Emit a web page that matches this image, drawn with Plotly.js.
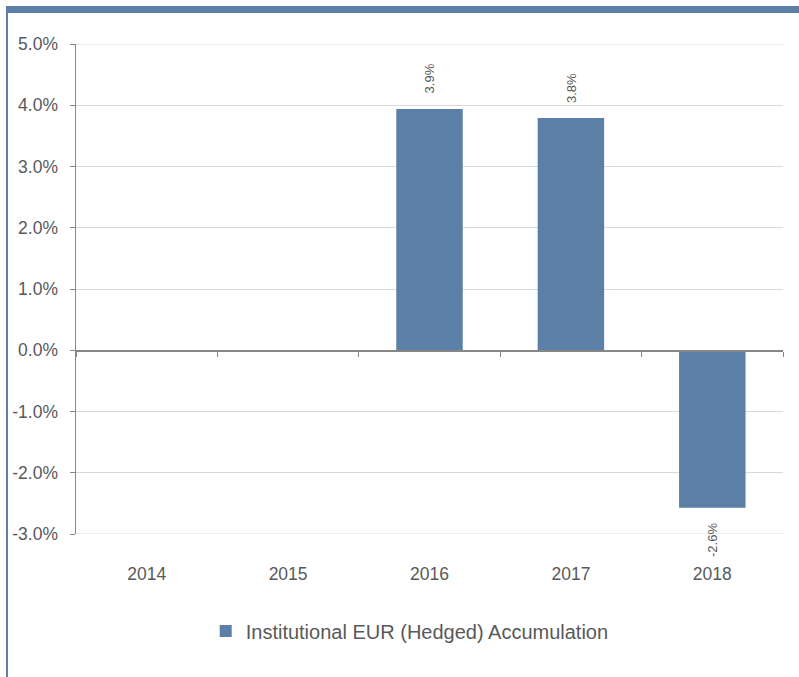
<!DOCTYPE html>
<html>
<head>
<meta charset="utf-8">
<script src="https://cdn.plot.ly/plotly-3.0.1.min.js"></script>
<style>
  html, body { margin: 0; padding: 0; background: #fff; }
  #chart { position: absolute; left: 0; top: 0; width: 799px; height: 677px; }
  #frame { position: absolute; left: 6px; top: 6px; width: 793px; height: 671px;
           border-top: 7px solid #5b7fa6; border-left: 2px solid #5b7fa6;
           box-sizing: border-box; pointer-events: none; }
</style>
</head>
<body>
<div id="chart"></div>
<div id="frame"></div>
<script>
const years = ["2014", "2015", "2016", "2017", "2018"];
const returns = [null, null, 3.94, 3.79, -2.57];
const labels = ["", "", "3.9%", "3.8%", "-2.6%"];
const seriesName = "Institutional EUR (Hedged) Accumulation";
const yTicks = [-3, -2, -1, 0, 1, 2, 3, 4, 5];
const yTickText = ["-3.0%", "-2.0%", "-1.0%", "0.0%", "1.0%", "2.0%", "3.0%", "4.0%", "5.0%"];

const gray = "#595959";
const barColor = "#5b7fa6";
const FONT = "Liberation Sans, Arial, sans-serif";

const traces = [
  {
    type: "bar", x: years, y: returns, name: seriesName,
    marker: { color: barColor }, hoverinfo: "x+y", showlegend: true
  },
  {
    type: "scatter", x: years, y: years.map(() => 0), xaxis: "x2",
    mode: "lines", line: { width: 0, color: "rgba(0,0,0,0)" }, showlegend: false, hoverinfo: "skip"
  }
];

const annotations = [];
years.forEach((yr, i) => {
  if (returns[i] === null || labels[i] === "") return;
  const pos = returns[i] >= 0;
  annotations.push({
    x: i, y: returns[i], xref: "x", yref: "y",
    text: labels[i], showarrow: false, textangle: -90,
    yanchor: pos ? "bottom" : "top", xanchor: "center",
    yshift: pos ? 13 : -13,
    font: { family: FONT, size: 13, color: gray }
  });
});

const shapes = [yTicks[0], yTicks[yTicks.length - 1]].map(v => ({
  type: "line", xref: "paper", yref: "y", x0: 0, x1: 1, y0: v, y1: v,
  line: { color: "#d9d9d9", width: 1 }, layer: "below"
}));

const layout = {
  width: 799, height: 677,
  margin: { l: 76, r: 16, t: 44, b: 143 },
  paper_bgcolor: "#ffffff", plot_bgcolor: "#ffffff",
  font: { family: FONT, size: 17.5, color: gray },
  bargap: 0.53,
  showlegend: true,
  legend: {
    orientation: "h", x: 0.472, xanchor: "center", y: -0.198, yanchor: "middle",
    font: { size: 20, color: gray }
  },
  xaxis: {
    type: "category", range: [-0.5, 4.5], showline: false, showgrid: false,
    zeroline: false, ticks: "", tickfont: { size: 17.5, color: gray },
    ticklabelstandoff: 27
  },
  xaxis2: {
    type: "category", overlaying: "x", anchor: "free", position: 0.375,
    range: [-0.5, 4.5], showline: true, linecolor: "#868686", linewidth: 1.5,
    ticks: "outside", tickson: "boundaries", ticklen: 5, tickcolor: "#868686",
    showticklabels: false, showgrid: false, zeroline: false, side: "bottom"
  },
  yaxis: {
    range: [-3, 5], tickvals: yTicks, ticktext: yTickText,
    showgrid: true, gridcolor: "#d9d9d9", gridwidth: 1,
    zeroline: false, showline: true, linecolor: "#868686", linewidth: 1.5,
    ticks: "outside", ticklen: 5, tickcolor: "#868686",
    tickfont: { size: 17.5, color: gray }, ticklabelstandoff: 8
  },
  shapes: shapes,
  annotations: annotations
};

Plotly.newPlot("chart", traces, layout, { displayModeBar: false, staticPlot: true });
</script>
</body>
</html>
